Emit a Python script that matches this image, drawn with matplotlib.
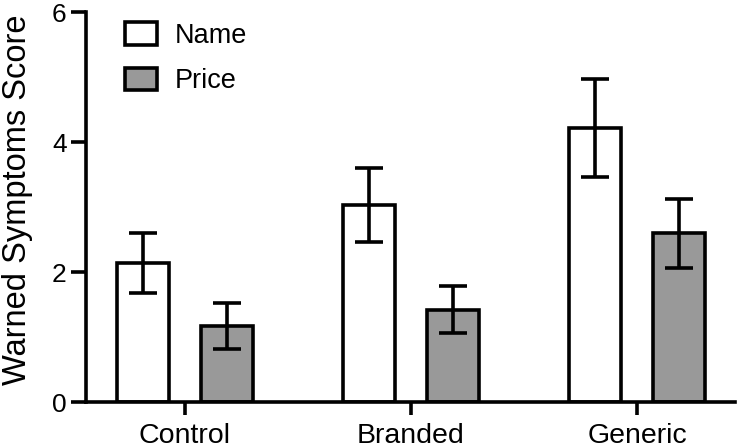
import matplotlib
matplotlib.use('Agg')
import matplotlib.pyplot as plt
import numpy as np

categories = ['Control', 'Branded', 'Generic']
name_mean = [2.14, 3.04, 4.22]
name_err = [0.46, 0.57, 0.75]
price_mean = [1.18, 1.43, 2.60]
price_err = [0.35, 0.36, 0.53]
ylabel = 'Warned Symptoms Score'

plt.rcParams['font.family'] = ['Liberation Sans', 'DejaVu Sans']

fig = plt.figure(figsize=(7.39, 4.48), dpi=100)
ax = fig.add_axes([0.1164, 0.1016, 0.8782, 0.8705])

x = np.arange(len(categories))
off = 0.187
w = 0.23
lw = 2.6

ax.bar(x - off, name_mean, w, color='white', edgecolor='black', linewidth=lw,
       label='Name', zorder=2)
ax.bar(x + off, price_mean, w, color='#999999', edgecolor='black', linewidth=lw,
       label='Price', zorder=2)
ax.errorbar(x - off, name_mean, yerr=name_err, fmt='none', ecolor='black',
            elinewidth=lw, capsize=10.4, capthick=lw, zorder=3)
ax.errorbar(x + off, price_mean, yerr=price_err, fmt='none', ecolor='black',
            elinewidth=lw, capsize=10.4, capthick=lw, zorder=3)

ax.set_xlim(-0.438, 2.434)
ax.set_ylim(0, 6)
ax.set_yticks([0, 2, 4, 6])
ax.set_xticks(x)
ax.set_xticklabels(categories, fontsize=20.5)
ax.tick_params(axis='y', labelsize=19, length=11, width=lw, pad=3)
ax.tick_params(axis='x', length=9, width=lw, pad=6)

for s in ['top', 'right']:
    ax.spines[s].set_visible(False)
for s in ['left', 'bottom']:
    ax.spines[s].set_linewidth(lw)

ax.set_ylabel(ylabel, fontsize=23.5)
ax.yaxis.set_label_coords(-0.082, 0.52)

ax.legend(loc='upper left', bbox_to_anchor=(0.06, 0.975), frameon=False,
          fontsize=19.5, handlelength=1.2, handleheight=0.9, handletextpad=0.65,
          labelspacing=0.7, borderpad=0, borderaxespad=0)

plt.savefig('out.png', dpi=100)
